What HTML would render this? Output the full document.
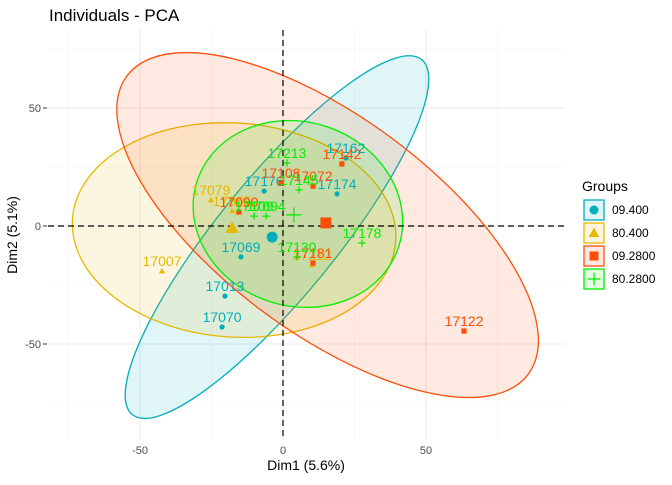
<!DOCTYPE html>
<html><head><meta charset="utf-8"><style>
body{margin:0;background:#fff;font-family:"Liberation Sans",sans-serif}
svg text{font-family:"Liberation Sans",sans-serif}
</style></head><body>
<svg id="c" width="672" height="480" viewBox="0 0 672 480" xmlns="http://www.w3.org/2000/svg">
<text x="49" y="21" font-size="17" fill="#000">Individuals - PCA</text>
<g id="grid"></g>
<g id="ell"></g>
<g id="axes"></g>
<g id="pts"></g>
<text x="306" y="470" font-size="14" text-anchor="middle">Dim1 (5.6%)</text>
<text transform="translate(17,235) rotate(-90)" font-size="14" text-anchor="middle">Dim2 (5.1%)</text>
<g id="legend">
<text x="582" y="191" font-size="14">Groups</text>
</g>
</svg>
<script>
const groups=["09.400","80.400","09.2800","80.2800"];
const colors=["#00AFBB","#E7B800","#FC4E07","#00EE00"];
const xTicks=[-50,0,50];
const yTicks=[-50,0,50];
const tealNames=["17162","17176","17174","17069","17013","17070"];
const tealX=[22.0,-6.6,18.9,-14.7,-20.3,-21.3];
const tealY=[28.8,14.8,13.6,-13.1,-29.7,-42.8];
const yelNames=["17079","17065","17120","17007","17212"];
const yelX=[-25.2,-17.8,-15.5,-42.3,10.1];
const yelY=[11.0,6.4,6.0,-19.1,-16.5];
const oraNames=["17142","17108","17072","17090","17181","17122"];
const oraX=[20.6,-0.7,10.5,-15.4,10.5,63.3];
const oraY=[26.3,18.2,16.9,5.9,-15.7,-44.5];
const grnNames=["17213","17145","17109","17094","17178","17130"];
const grnX=[1.4,5.6,-10.1,-5.9,27.6,4.9];
const grnY=[26.7,15.3,4.2,4.2,-7.2,-13.1];
const centX=[-3.8,-17.8,15.0,3.8];
const centY=[-4.7,-0.8,1.3,4.7];
const ellCX=[-2.1,-17.1,15.6,5.2];
const ellCY=[-4.7,-1.7,0.4,5.1];
const ellA=[229,162,250,106];
const ellB=[59,107,108,92];
const ellAng=[-50.8,4,36.6,18];

const X=v=>283+2.86*v, Y=v=>226-2.36*v;
const NS="http://www.w3.org/2000/svg";
function mk(tag,attrs,parent){const e=document.createElementNS(NS,tag);for(const k in attrs)e.setAttribute(k,attrs[k]);parent.appendChild(e);return e;}
const grid=document.getElementById('grid');
const L=48,R=565,T=30,B=440;
[-75,-25,25,75].forEach(v=>{let l=mk('line',{x1:X(v),x2:X(v),y1:T,y2:B,stroke:'#f3f3f3','stroke-width':0.6},grid);});
[-75,-25,25,75].forEach(v=>{let l=mk('line',{y1:Y(v),y2:Y(v),x1:L,x2:R,stroke:'#f3f3f3','stroke-width':0.6},grid);});
xTicks.forEach(v=>{let l=mk('line',{x1:X(v),x2:X(v),y1:T,y2:B,stroke:'#ebebeb','stroke-width':1.1},grid);
 let t=mk('text',{x:X(v),y:454,'font-size':11,'text-anchor':'middle',fill:'#4d4d4d'},grid);t.textContent=v;});
yTicks.forEach(v=>{let l=mk('line',{y1:Y(v),y2:Y(v),x1:L,x2:R,stroke:'#ebebeb','stroke-width':1.1},grid);
 let k=mk('line',{x1:43,x2:47,y1:Y(v),y2:Y(v),stroke:'#333'},grid);
 let t=mk('text',{x:41,y:Y(v)+4,'font-size':11,'text-anchor':'end',fill:'#4d4d4d'},grid);t.textContent=v;});
const ell=document.getElementById('ell');
for(let i=0;i<4;i++){let e=mk('ellipse',{cx:0,cy:0,rx:ellA[i],ry:ellB[i],fill:colors[i],'fill-opacity':0.12,stroke:colors[i],'stroke-width':1.3,transform:`translate(${X(ellCX[i])},${Y(ellCY[i])}) rotate(${ellAng[i]})`},ell);
 }
const axes=document.getElementById('axes');
let a1=mk('line',{x1:L,x2:R,y1:Y(0),y2:Y(0),stroke:'#000','stroke-dasharray':'6,4','stroke-width':1.2},axes);
let a2=mk('line',{x1:X(0),x2:X(0),y1:T,y2:B,stroke:'#000','stroke-dasharray':'6,4','stroke-width':1.2},axes);
const pts=document.getElementById('pts');
function shape(g,cx,cy,s,par){const c=colors[g];let e;
 if(g==0)e=mk('circle',{cx,cy,r:s,fill:c},par);
 else if(g==1)e=mk('polygon',{points:`${cx},${cy-s*1.2} ${cx-s*1.2},${cy+s*0.9} ${cx+s*1.2},${cy+s*0.9}`,fill:c},par);
 else if(g==2)e=mk('rect',{x:cx-s,y:cy-s,width:2*s,height:2*s,fill:c},par);
 else e=mk('path',{d:`M${cx-s*1.4},${cy}H${cx+s*1.4}M${cx},${cy-s*1.4}V${cy+s*1.4}`,stroke:c,'stroke-width':1.2,fill:'none'},par);
 return e;}
const sets=[[tealNames,tealX,tealY],[yelNames,yelX,yelY],[oraNames,oraX,oraY],[grnNames,grnX,grnY]];
sets.forEach((s,g)=>{s[0].forEach((n,i)=>{const px=X(s[1][i]),py=Y(s[2][i]);
 let e=shape(g,px,py,2.6,pts);
 let t=mk('text',{x:px,y:py-5,'font-size':14,'text-anchor':'middle',fill:colors[g]},pts);t.textContent=n;});});
for(let g=0;g<4;g++){let e=shape(g,X(centX[g]),Y(centY[g]),5.5,pts);}
const lg=document.getElementById('legend');
groups.forEach((n,i)=>{const y=210+i*23;
 let r=mk('rect',{x:584,y:y-10,width:20,height:20,fill:colors[i],'fill-opacity':0.12,stroke:colors[i],'stroke-width':1.3},lg);
 let e=shape(i,594,y,4.5,lg);
 let t=mk('text',{x:612,y:y+4,'font-size':12,fill:'#000'},lg);t.textContent=n;});
</script>
</body></html>
